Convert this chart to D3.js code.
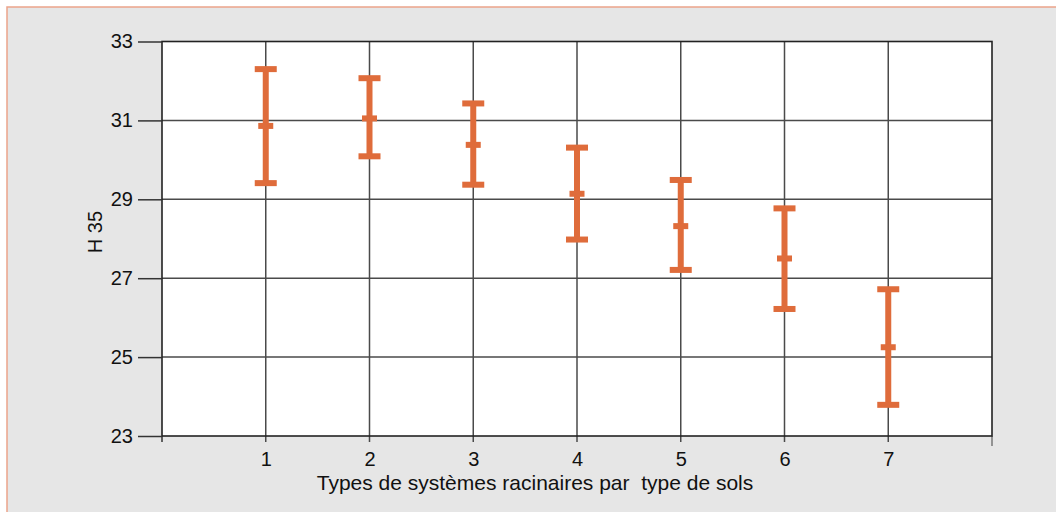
<!DOCTYPE html>
<html><head><meta charset="utf-8">
<script src="https://cdn.jsdelivr.net/npm/d3@7"></script>
<style>body{margin:0;background:#fff}svg{display:block}text{font-family:"Liberation Sans",Arial,sans-serif;fill:#111}</style>
</head><body>
<svg id="c" width="1056" height="512"></svg>
<script>
const categories = [1, 2, 3, 4, 5, 6, 7];
const means = [30.86, 31.05, 30.38, 29.14, 28.32, 27.50, 25.25];
const upper = [32.30, 32.07, 31.43, 30.31, 29.49, 28.77, 26.72];
const lower = [29.41, 30.09, 29.37, 27.98, 27.21, 26.22, 23.79];
const yTicks = [23, 25, 27, 29, 31, 33];
const xTitle = "Types de systèmes racinaires par  type de sols";
const yTitle = "H 35";

const svg = d3.select("#c");
const L = 162, R = 992, T = 41.5, B = 436;
const orange = "#df6c3b";

svg.append("rect").attr("x", 7).attr("y", 7).attr("width", 1060).attr("height", 520)
  .attr("fill", "#e6e6e6").attr("stroke", "#eba48a").attr("stroke-width", 1.5);
svg.append("rect").attr("x", L).attr("y", T).attr("width", R - L).attr("height", B - T).attr("fill", "#fff");

const x = d3.scaleLinear().domain([0, 8]).range([L, R]);
const y = d3.scaleLinear().domain([23, 33]).range([B, T]);

svg.append("g").selectAll("line").data(yTicks.filter(v => v > 23 && v < 33)).join("line")
  .attr("x1", L).attr("x2", R).attr("y1", d => y(d)).attr("y2", d => y(d))
  .attr("stroke", "#4a4a4a").attr("stroke-width", 1.5);
svg.append("g").selectAll("line").data(categories).join("line")
  .attr("x1", d => x(d)).attr("x2", d => x(d)).attr("y1", T).attr("y2", B + 6)
  .attr("stroke", "#4a4a4a").attr("stroke-width", 1.5);
svg.append("line").attr("x1", R).attr("x2", R).attr("y1", B).attr("y2", B + 10).attr("stroke", "#777").attr("stroke-width", 1.5);
svg.append("line").attr("x1", L).attr("x2", L).attr("y1", B).attr("y2", B + 6).attr("stroke", "#333").attr("stroke-width", 1.5);

svg.append("rect").attr("x", L).attr("y", T).attr("width", R - L).attr("height", B - T)
  .attr("fill", "none").attr("stroke", "#222").attr("stroke-width", 1.6);

const yAxis = d3.axisLeft(y).tickValues(yTicks).tickSize(24).tickPadding(5).tickFormat(d3.format("d"));
const gy = svg.append("g").attr("transform", `translate(${L},0)`).call(yAxis);
gy.select(".domain").remove();
gy.selectAll(".tick line").attr("stroke", "#333").attr("stroke-width", 1.5);
gy.selectAll(".tick text").attr("font-size", 20).attr("fill", "#111").attr("font-family", "Liberation Sans, Arial, sans-serif");

const xAxis = d3.axisBottom(x).tickValues(categories).tickSize(0).tickPadding(16).tickFormat(d3.format("d"));
const gx = svg.append("g").attr("transform", `translate(0,${B})`).call(xAxis);
gx.select(".domain").remove();
gx.selectAll(".tick text").attr("font-size", 20).attr("fill", "#111").attr("font-family", "Liberation Sans, Arial, sans-serif");

svg.append("text").attr("x", 535).attr("y", 490).attr("text-anchor", "middle").attr("font-size", 21)
  .style("white-space", "pre").text(xTitle);
svg.append("text").attr("transform", "translate(102,232) rotate(-90)").attr("text-anchor", "middle").attr("font-size", 20).text(yTitle);

const idx = d3.range(categories.length);
const g = svg.append("g").attr("fill", orange);
g.selectAll(".stem").data(idx).join("rect").attr("class", "stem")
  .attr("x", i => x(categories[i]) - 3).attr("width", 6)
  .attr("y", i => y(upper[i])).attr("height", i => y(lower[i]) - y(upper[i]));
g.selectAll(".capT").data(idx).join("rect").attr("class", "capT")
  .attr("x", i => x(categories[i]) - 11).attr("width", 22)
  .attr("y", i => y(upper[i]) - 3).attr("height", 6);
g.selectAll(".capB").data(idx).join("rect").attr("class", "capB")
  .attr("x", i => x(categories[i]) - 11).attr("width", 22)
  .attr("y", i => y(lower[i]) - 3).attr("height", 6);
g.selectAll(".mean").data(idx).join("rect").attr("class", "mean")
  .attr("x", i => x(categories[i]) - 7.5).attr("width", 15)
  .attr("y", i => y(means[i]) - 3).attr("height", 6);
</script>
</body></html>
